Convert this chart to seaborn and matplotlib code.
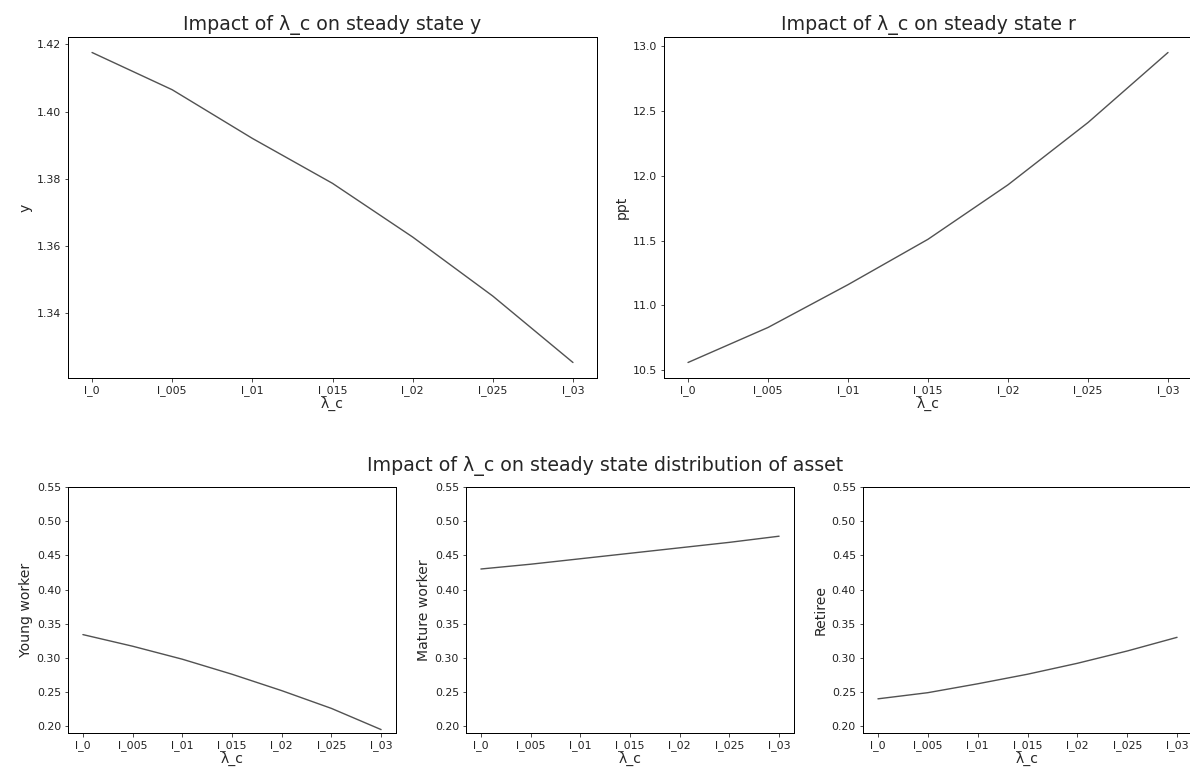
import matplotlib
matplotlib.use("Agg")
import matplotlib.pyplot as plt
import seaborn as sns
import pandas as pd

lambda_labels = ["l_0", "l_005", "l_01", "l_015", "l_02", "l_025", "l_03"]
y_ss = [1.4176, 1.4065, 1.3920, 1.3786, 1.3626, 1.3450, 1.3252]
r_ss = [10.56, 10.83, 11.16, 11.51, 11.93, 12.41, 12.95]
young_share = [0.334, 0.317, 0.298, 0.276, 0.252, 0.226, 0.195]
mature_share = [0.430, 0.437, 0.445, 0.453, 0.461, 0.469, 0.478]
retiree_share = [0.240, 0.249, 0.262, 0.276, 0.292, 0.310, 0.330]

sns.set_style("ticks")
plt.rcParams["font.family"] = ["DejaVu Sans"]

W, H, DPI = 1190, 774, 72
fig = plt.figure(figsize=(W / DPI, H / DPI), dpi=DPI)

line_color = "#525252"


def px_rect(left, top, right, bottom):
    """Axes rectangle from pixel edges measured from the top-left corner."""
    return [left / W, 1 - bottom / H, (right - left) / W, (bottom - top) / H]


def panel(rect, values, ylabel, title=None, ylim=None):
    ax = fig.add_axes(rect)
    df = pd.DataFrame({"lam": lambda_labels, "val": values})
    sns.lineplot(data=df, x="lam", y="val", ax=ax, color=line_color,
                 linewidth=1.4, sort=False)
    ax.set_xlabel("λ_c", fontsize=14, labelpad=1)
    ax.set_ylabel(ylabel, fontsize=14)
    ax.tick_params(labelsize=11, colors="#222222")
    if title:
        ax.set_title(title, fontsize=19, pad=7)
    if ylim:
        ax.set_ylim(*ylim)
    for s in ax.spines.values():
        s.set_color("black")
        s.set_linewidth(1.0)
    return ax


panel(px_rect(68, 37, 597, 378), y_ss, "y",
      title="Impact of λ_c on steady state y")
panel(px_rect(664, 37, 1192, 378), r_ss, "ppt",
      title="Impact of λ_c on steady state r")

bt, bb = 487, 733
panel(px_rect(68, bt, 396, bb), young_share, "Young worker", ylim=(0.19, 0.55))
panel(px_rect(466, bt, 794, bb), mature_share, "Mature worker", ylim=(0.19, 0.55))
panel(px_rect(863, bt, 1192, bb), retiree_share, "Retiree", ylim=(0.19, 0.55))

fig.text(605 / W, 1 - 466 / H, "Impact of λ_c on steady state distribution of asset",
         ha="center", va="center", fontsize=19)

fig.savefig("out.png", dpi=DPI)
